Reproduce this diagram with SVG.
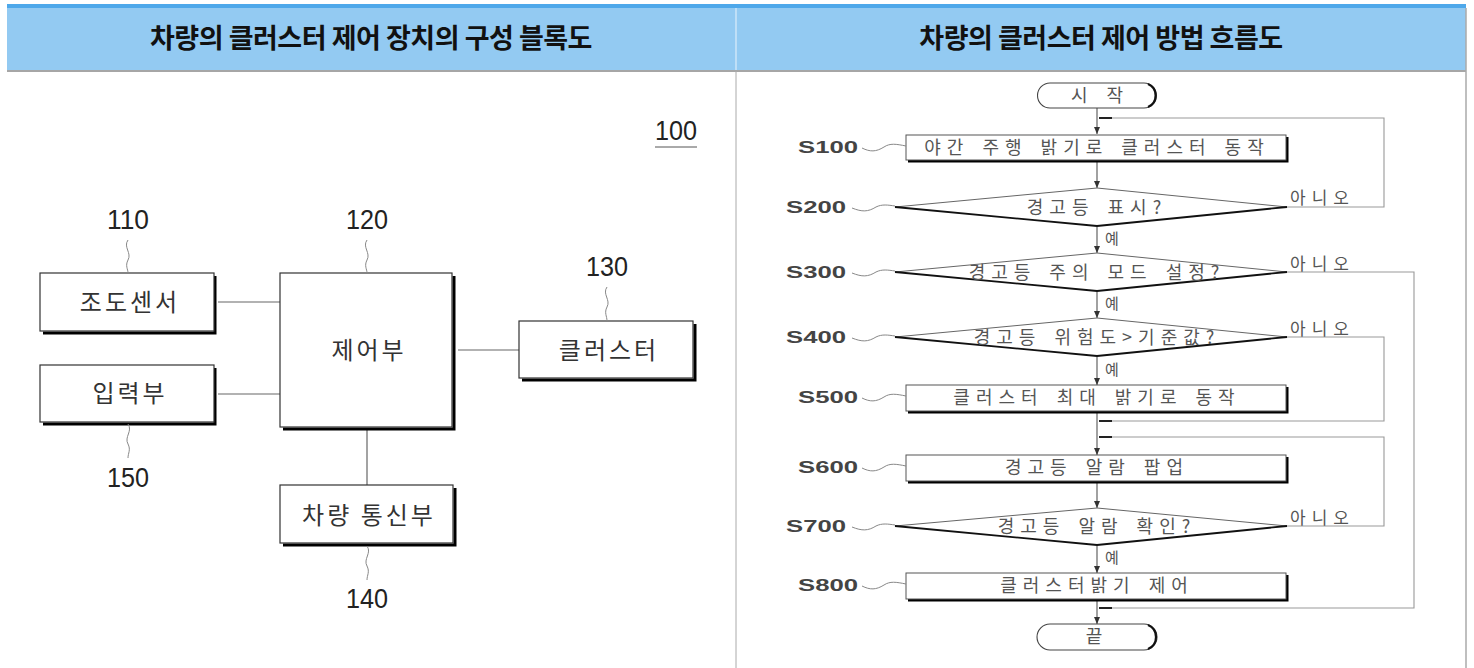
<svg xmlns="http://www.w3.org/2000/svg" width="1474" height="668" viewBox="0 0 1474 668">
<defs>
<style>
.hdr{font-family:"Noto Sans CJK KR","Noto Sans",sans-serif;font-size:27px;font-weight:bold;fill:#111;text-anchor:middle;letter-spacing:-0.5px}
.bt{font-family:"Noto Sans CJK KR",sans-serif;font-size:24px;fill:#333;text-anchor:middle;letter-spacing:3px}
.num{font-family:"Liberation Sans",Arial,sans-serif;font-size:28px;fill:#222;text-anchor:middle}
.ft{font-family:"Noto Sans CJK KR",sans-serif;font-size:18px;fill:#555;text-anchor:middle;letter-spacing:6px;word-spacing:3px}
.sl{font-family:"Liberation Sans",Arial,sans-serif;font-size:16.5px;font-weight:bold;fill:#444}
.yn{font-family:"Noto Sans CJK KR",sans-serif;font-size:15px;fill:#555}
.no{font-family:"Noto Sans CJK KR",sans-serif;font-size:17px;fill:#555;letter-spacing:6px}
.box{fill:#fff;stroke:#333;stroke-width:1.2}
.sh{fill:none;stroke:#000;stroke-width:3}
.ln{fill:none;stroke:#666;stroke-width:1.2}
.sq{fill:none;stroke:#888;stroke-width:1}
.fl{fill:none;stroke:#555;stroke-width:1.1}
.lp{fill:none;stroke:#999;stroke-width:1.1}
</style>
<marker id="ah" markerWidth="8" markerHeight="8" refX="7" refY="4" orient="auto" markerUnits="userSpaceOnUse">
<path d="M0,1 L7,4 L0,7 z" fill="#333"/>
</marker>
<marker id="tk" markerWidth="14" markerHeight="6" refX="13" refY="3" orient="auto" markerUnits="userSpaceOnUse">
<path d="M0,2 L13,2 L13,4 L0,4 z" fill="#222"/>
</marker>
</defs>
<rect x="0" y="0" width="1474" height="668" fill="#fff"/>
<g id="header">
<rect x="7" y="4" width="1459" height="66" fill="#93caf2"/>
<rect x="7" y="4" width="1459" height="4" fill="#4ea8ea"/>
<line x1="736" y1="8" x2="736" y2="70" stroke="#eaf4fc" stroke-width="1"/>
<line x1="7" y1="71" x2="1466" y2="71" stroke="#888" stroke-width="1.5"/>
<line x1="736" y1="71" x2="736" y2="668" stroke="#aaa" stroke-width="1"/>
<line x1="1466" y1="8" x2="1466" y2="668" stroke="#aaa" stroke-width="1.5"/>
<text class="hdr" x="371" y="48">차량의 클러스터 제어 장치의 구성 블록도</text>
<text class="hdr" x="1101" y="48">차량의 클러스터 제어 방법 흐름도</text>
</g>
<g id="label100">
<text class="num" x="676" y="140" textLength="42" lengthAdjust="spacingAndGlyphs">100</text>
<line x1="655" y1="147" x2="697" y2="147" stroke="#555" stroke-width="1"/>
</g>
<g id="connectors-block">
<line class="ln" x1="218" y1="302" x2="280" y2="302"/>
<line class="ln" x1="218" y1="394" x2="280" y2="394"/>
<line class="ln" x1="458" y1="350" x2="519" y2="350"/>
<line class="ln" x1="367" y1="429" x2="367" y2="485"/>
</g>
<g id="n110">
<polyline class="sh" points="215,276 215,333 43,333"/>
<rect class="box" x="40" y="273" width="174" height="58"/>
<text class="bt" x="130" y="311">조도센서</text>
<text class="num" x="128" y="229" textLength="42" lengthAdjust="spacingAndGlyphs">110</text>
<path class="sq" d="M128,240 c-5,7 4,13 0,20 c-3,6 0,9 0,13"/>
</g>
<g id="n120">
<polyline class="sh" points="454,276 454,429 283,429"/>
<rect class="box" x="280" y="273" width="172" height="154"/>
<text class="bt" x="369" y="359">제어부</text>
<text class="num" x="367" y="229" textLength="42" lengthAdjust="spacingAndGlyphs">120</text>
<path class="sq" d="M367,240 c-5,7 4,13 0,20 c-3,6 0,9 0,13"/>
</g>
<g id="n150">
<polyline class="sh" points="215,368 215,424 43,424"/>
<rect class="box" x="40" y="365" width="174" height="57"/>
<text class="bt" x="130" y="402">입력부</text>
<text class="num" x="128" y="487" textLength="42" lengthAdjust="spacingAndGlyphs">150</text>
<path class="sq" d="M128,424 c5,7 -4,13 0,20 c3,6 0,9 0,14"/>
</g>
<g id="n130">
<polyline class="sh" points="695,324 695,380 522,380"/>
<rect class="box" x="519" y="321" width="174" height="57"/>
<text class="bt" x="609" y="359">클러스터</text>
<text class="num" x="607" y="276" textLength="42" lengthAdjust="spacingAndGlyphs">130</text>
<path class="sq" d="M607,287 c-5,7 4,13 0,20 c-3,6 0,9 0,14"/>
</g>
<g id="n140">
<polyline class="sh" points="455,488 455,545 283,545"/>
<rect class="box" x="280" y="485" width="173" height="58"/>
<text class="bt" x="369" y="524">차량 통신부</text>
<text class="num" x="367" y="608" textLength="42" lengthAdjust="spacingAndGlyphs">140</text>
<path class="sq" d="M367,546 c5,7 -4,13 0,20 c3,6 0,9 0,14"/>
</g>
<g id="connectors-flow">
<line class="fl" x1="1097" y1="108" x2="1097" y2="134" marker-end="url(#ah)"/>
<line class="fl" x1="1097" y1="161" x2="1097" y2="188" marker-end="url(#ah)"/>
<line class="fl" x1="1097" y1="227" x2="1097" y2="253" marker-end="url(#ah)"/>
<line class="fl" x1="1097" y1="292" x2="1097" y2="318" marker-end="url(#ah)"/>
<line class="fl" x1="1097" y1="357" x2="1097" y2="385" marker-end="url(#ah)"/>
<line class="fl" x1="1097" y1="412" x2="1097" y2="455" marker-end="url(#ah)"/>
<line class="fl" x1="1097" y1="482" x2="1097" y2="508" marker-end="url(#ah)"/>
<line class="fl" x1="1097" y1="546" x2="1097" y2="573" marker-end="url(#ah)"/>
<line class="fl" x1="1097" y1="600" x2="1097" y2="624" marker-end="url(#ah)"/>
<polyline class="lp" points="1287,207 1384,207 1384,118 1099,118" marker-end="url(#tk)"/>
<polyline class="lp" points="1287,272 1414,272 1414,608 1099,608" marker-end="url(#tk)"/>
<polyline class="lp" points="1287,337 1384,337 1384,421 1099,421" marker-end="url(#tk)"/>
<polyline class="lp" points="1287,526 1384,526 1384,437 1099,437" marker-end="url(#tk)"/>
<text class="yn" x="1105" y="244">예</text>
<text class="yn" x="1105" y="309">예</text>
<text class="yn" x="1105" y="375">예</text>
<text class="yn" x="1105" y="563">예</text>
<text class="no" x="1290" y="204">아니오</text>
<text class="no" x="1290" y="270">아니오</text>
<text class="no" x="1290" y="335">아니오</text>
<text class="no" x="1290" y="524">아니오</text>
</g>
<g id="start">
<path d="M1050,83 L1144,83 A12.5,12.5 0 0 1 1144,108 L1050,108 A12.5,12.5 0 0 1 1050,83 z" fill="#fff" stroke="#444" stroke-width="1.1"/>
<path d="M1148,84 A12.5,12.5 0 0 1 1148,107" fill="none" stroke="#111" stroke-width="2.2"/>
<text class="ft" x="1100" y="102" word-spacing="2">시 작</text>
</g>
<g id="S100">
<polyline class="sh" points="1287,137 1287,161 908,161" stroke-width="2"/>
<rect x="906" y="135" width="380" height="25" fill="#fff" stroke="#555" stroke-width="1"/>
<text class="ft" x="1097" y="154">야간 주행 밝기로 클러스터 동작</text>
<text class="sl" x="798" y="153" textLength="60" lengthAdjust="spacingAndGlyphs">S100</text>
<path class="sq" d="M862,148 c8,4 14,4 22,-1 c6,-4 12,-3 22,-1"/>
</g>
<g id="S200">
<path d="M895,207 L1097,188 L1287,207 L1097,226 z" fill="#fff" stroke="none"/>
<path d="M895,207 L1097,188 L1287,207" fill="none" stroke="#666" stroke-width="1"/>
<path d="M895,207 L1097,226 L1287,207" fill="none" stroke="#111" stroke-width="1.8"/>
<text class="ft" x="1097" y="214">경고등 표시?</text>
<text class="sl" x="786" y="213" textLength="60" lengthAdjust="spacingAndGlyphs">S200</text>
<path class="sq" d="M852,208 c10,4 16,4 24,-1 c6,-3 12,-2 19,-1"/>
</g>
<g id="S300">
<path d="M895,272 L1097,253 L1287,272 L1097,291 z" fill="#fff" stroke="none"/>
<path d="M895,272 L1097,253 L1287,272" fill="none" stroke="#666" stroke-width="1"/>
<path d="M895,272 L1097,291 L1287,272" fill="none" stroke="#111" stroke-width="1.8"/>
<text class="ft" x="1097" y="279">경고등 주의 모드 설정?</text>
<text class="sl" x="786" y="278" textLength="60" lengthAdjust="spacingAndGlyphs">S300</text>
<path class="sq" d="M852,273 c10,4 16,4 24,-1 c6,-3 12,-2 19,-1"/>
</g>
<g id="S400">
<path d="M895,337 L1097,318 L1287,337 L1097,356 z" fill="#fff" stroke="none"/>
<path d="M895,337 L1097,318 L1287,337" fill="none" stroke="#666" stroke-width="1"/>
<path d="M895,337 L1097,356 L1287,337" fill="none" stroke="#111" stroke-width="1.8"/>
<text class="ft" x="1097" y="344" letter-spacing="4">경고등 위험도&gt;기준값?</text>
<text class="sl" x="786" y="343" textLength="60" lengthAdjust="spacingAndGlyphs">S400</text>
<path class="sq" d="M852,338 c10,4 16,4 24,-1 c6,-3 12,-2 19,-1"/>
</g>
<g id="S500">
<polyline class="sh" points="1287,387 1287,412 908,412" stroke-width="2"/>
<rect x="906" y="385" width="380" height="26" fill="#fff" stroke="#555" stroke-width="1"/>
<text class="ft" x="1097" y="404">클러스터 최대 밝기로 동작</text>
<text class="sl" x="798" y="403" textLength="60" lengthAdjust="spacingAndGlyphs">S500</text>
<path class="sq" d="M862,398 c8,4 14,4 22,-1 c6,-4 12,-3 22,-1"/>
</g>
<g id="S600">
<polyline class="sh" points="1287,457 1287,482 908,482" stroke-width="2"/>
<rect x="906" y="455" width="380" height="26" fill="#fff" stroke="#555" stroke-width="1"/>
<text class="ft" x="1097" y="474">경고등 알람 팝업</text>
<text class="sl" x="798" y="473" textLength="60" lengthAdjust="spacingAndGlyphs">S600</text>
<path class="sq" d="M862,468 c8,4 14,4 22,-1 c6,-4 12,-3 22,-1"/>
</g>
<g id="S700">
<path d="M895,526 L1097,508 L1287,526 L1097,545 z" fill="#fff" stroke="none"/>
<path d="M895,526 L1097,508 L1287,526" fill="none" stroke="#666" stroke-width="1"/>
<path d="M895,526 L1097,545 L1287,526" fill="none" stroke="#111" stroke-width="1.8"/>
<text class="ft" x="1097" y="533">경고등 알람 확인?</text>
<text class="sl" x="786" y="532" textLength="60" lengthAdjust="spacingAndGlyphs">S700</text>
<path class="sq" d="M852,527 c10,4 16,4 24,-1 c6,-3 12,-2 19,-1"/>
</g>
<g id="S800">
<polyline class="sh" points="1287,575 1287,600 908,600" stroke-width="2"/>
<rect x="906" y="573" width="380" height="26" fill="#fff" stroke="#555" stroke-width="1"/>
<text class="ft" x="1097" y="592">클러스터밝기 제어</text>
<text class="sl" x="798" y="591" textLength="60" lengthAdjust="spacingAndGlyphs">S800</text>
<path class="sq" d="M862,586 c8,4 14,4 22,-1 c6,-4 12,-3 22,-1"/>
</g>
<g id="end">
<path d="M1050,624 L1144,624 A13,13 0 0 1 1144,650 L1050,650 A13,13 0 0 1 1050,624 z" fill="#fff" stroke="#444" stroke-width="1.1"/>
<path d="M1148,625 A13,13 0 0 1 1148,649" fill="none" stroke="#111" stroke-width="2.2"/>
<text class="ft" x="1097" y="643" letter-spacing="0">끝</text>
</g>
</svg>
